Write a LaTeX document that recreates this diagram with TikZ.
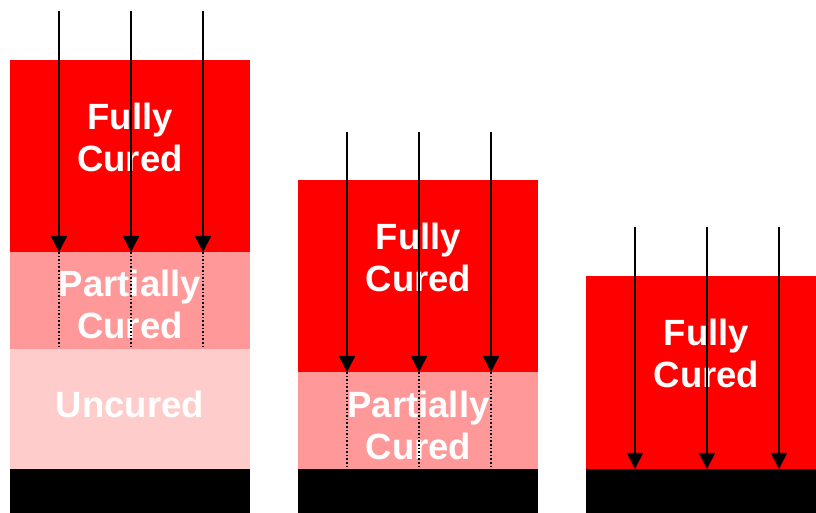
\documentclass[tikz,border=0pt]{standalone}
\usepackage{fontspec}
\setmainfont{Liberation Sans}
\usetikzlibrary{arrows.meta}
\definecolor{full}{RGB}{255,0,0}
\definecolor{partial}{RGB}{255,153,153}
\definecolor{uncured}{RGB}{255,204,204}
\begin{document}
\begin{tikzpicture}[x=1pt,y=1pt,
  layer/.style={draw=none,inner sep=0pt,outer sep=0pt,minimum width=240pt},
  lbl/.style={text=white,font=\fontsize{36.5}{42}\selectfont\bfseries,align=center,inner sep=0pt},
  ray/.style={line width=1.8pt,-{Triangle[width=16pt,length=16pt]}},
  dots/.style={line width=1.6pt,dotted}]
\useasboundingbox (0,0) rectangle (816,513);
% column 1
\node[layer,fill=full,minimum height=192pt,anchor=north west] (f1) at (10,453) {};
\node[layer,fill=partial,minimum height=97pt,anchor=north west] (p1) at (10,261) {};
\node[layer,fill=uncured,minimum height=120pt,anchor=north west] (u1) at (10,164) {};
\node[layer,fill=black,minimum height=44pt,anchor=north west] (b1) at (10,44) {};
\node[lbl] (t1) at (130,375.5) {Fully\\Cured};
\node[lbl] (t2) at (130,208.5) {Partially\\Cured};
\node[lbl] (t3) at (130,109) {Uncured};
% column 2
\node[layer,fill=full,minimum height=192pt,anchor=north west] (f2) at (298,333) {};
\node[layer,fill=partial,minimum height=97pt,anchor=north west] (p2) at (298,141) {};
\node[layer,fill=black,minimum height=44pt,anchor=north west] (b2) at (298,44) {};
\node[lbl] (t4) at (418.5,255.5) {Fully\\Cured};
\node[lbl] (t5) at (418.5,87.5) {Partially\\Cured};
% column 3
\node[layer,fill=full,minimum height=193pt,anchor=north west] (f3) at (586,237) {};
\node[layer,fill=black,minimum height=44pt,anchor=north west] (b3) at (586,44) {};
\node[lbl] (t6) at (706.5,159.5) {Fully\\Cured};
% rays column 1
\foreach \x/\n in {59/a,131/b,203/c}{
  \coordinate (s1\n) at (\x,502);
  \coordinate (e1\n) at (\x,261);
  \coordinate (d1\n) at (\x,167);
  \draw[ray] (s1\n) -- (e1\n);
  \draw[dots] (e1\n) -- (d1\n);
}
% rays column 2
\foreach \x/\n in {347/a,419/b,491/c}{
  \coordinate (s2\n) at (\x,381);
  \coordinate (e2\n) at (\x,141);
  \coordinate (d2\n) at (\x,47);
  \draw[ray] (s2\n) -- (e2\n);
  \draw[dots] (e2\n) -- (d2\n);
}
% rays column 3
\foreach \x/\n in {635/a,707/b,779/c}{
  \coordinate (s3\n) at (\x,286);
  \coordinate (e3\n) at (\x,44);
  \draw[ray] (s3\n) -- (e3\n);
}
\end{tikzpicture}
\end{document}
